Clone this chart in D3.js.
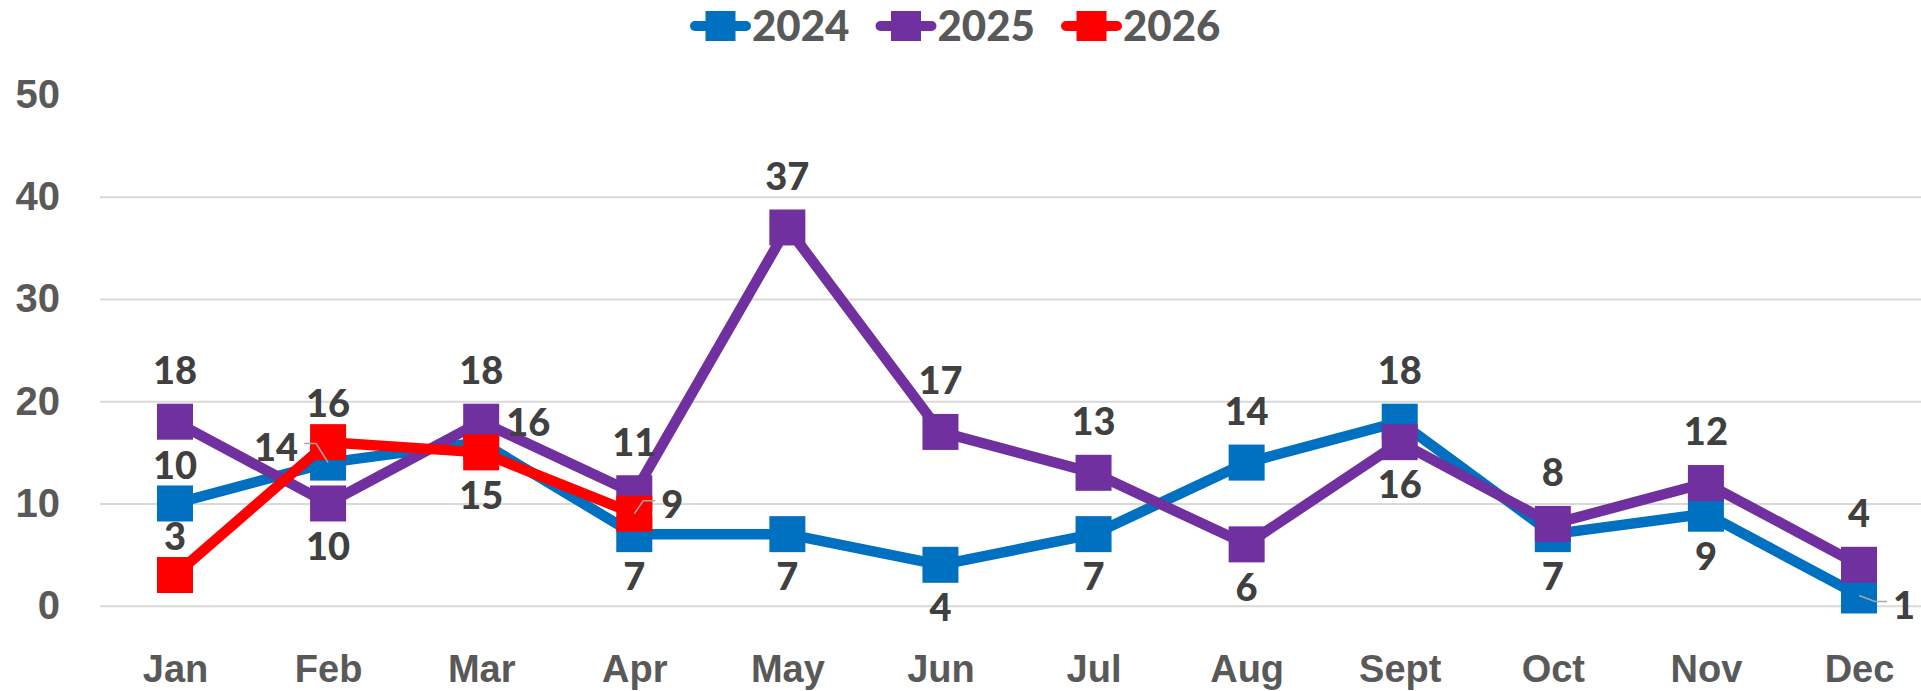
<!DOCTYPE html>
<html>
<head>
<meta charset="utf-8">
<script src="https://cdn.jsdelivr.net/npm/d3@7"></script>
<style>
  html, body { margin: 0; padding: 0; background: #fff; }
  svg { display: block; font-family: Lato, 'Open Sans', sans-serif; font-weight: 900; }
</style>
</head>
<body>
<svg id="chart" width="1921" height="691"></svg>
<script>
const months = ['Jan', 'Feb', 'Mar', 'Apr', 'May', 'Jun', 'Jul', 'Aug', 'Sept', 'Oct', 'Nov', 'Dec']
const yTicks = [0, 10, 20, 30, 40, 50]

const values2024 = [10, 14, 16, 7, 7, 4, 7, 14, 18, 7, 9, 1]
const values2025 = [18, 10, 18, 11, 37, 17, 13, 6, 16, 8, 12, 4]
const values2026 = [3, 16, 15, 9]

// where each data label sits relative to its marker
const labels2024 = ['near', 'left', 'right', 'below', 'below', 'below', 'below', 'above', 'above', 'below', 'below', 'rightLow']
const labels2025 = ['above', 'below', 'above', 'above', 'above', 'above', 'above', 'below', 'below', 'above', 'above', 'above']
const labels2026 = ['near', 'near', 'below', 'rightMid']

const series = [
  { name: '2024', color: '#0070c0', values: values2024, labels: labels2024 },
  { name: '2025', color: '#7030a0', values: values2025, labels: labels2025 },
  { name: '2026', color: '#ff0000', values: values2026, labels: labels2026 }
]

const labelOffsets = {
  above: [0, -51],
  near: [0, -38],
  below: [0, 43],
  left: [-52, -15],
  right: [47, -19],
  rightMid: [38, -9],
  rightLow: [45, 10]
}
const withLeader = { left: -1, rightMid: 1, rightLow: 1 }

window.addEventListener('DOMContentLoaded', init)

function init () {
  const svg = d3.select('#chart')
  const x = d3.scalePoint().domain(months).range([175, 1859])
  const y = d3.scaleLinear().domain([0, 50]).range([605.7, 94.6])

  buildAxes(svg, x, y)
  buildLines(svg, x, y)
  buildLabels(svg, x, y)
  buildLegend(svg)
}

function buildAxes (svg, x, y) {
  const yAxis = svg.append('g')
    .attr('transform', 'translate(100,0)')
    .call(d3.axisLeft(y).tickValues(yTicks).tickSize(-1821).tickPadding(40))
  yAxis.select('.domain').remove()
  yAxis.selectAll('.tick line')
    .attr('stroke', '#d9d9d9')
    .attr('stroke-width', 2)
    .filter(d => d === 50)
    .remove()
  yAxis.selectAll('.tick text')
    .attr('fill', '#595959')
    .style('font-size', '40px')

  const xAxis = svg.append('g')
    .attr('transform', `translate(0,${y(0)})`)
    .call(d3.axisBottom(x).tickSize(0))
  xAxis.select('.domain').remove()
  xAxis.selectAll('.tick text')
    .attr('y', 63)
    .attr('dy', '0.35em')
    .attr('fill', '#595959')
    .style('font-size', '38px')
}

function buildLines (svg, x, y) {
  const line = d3.line()
    .x((d, i) => x(months[i]))
    .y(d => y(d))

  const groups = svg.append('g')
    .selectAll('g')
    .data(series)
    .enter()
    .append('g')

  groups.append('path')
    .attr('d', s => line(s.values))
    .attr('fill', 'none')
    .attr('stroke', s => s.color)
    .attr('stroke-width', 10.5)
    .attr('stroke-linejoin', 'round')

  groups.selectAll('rect')
    .data(s => s.values.map((v, i) => ({ v, i, color: s.color })))
    .enter()
    .append('rect')
    .attr('x', d => x(months[d.i]) - 18)
    .attr('y', d => y(d.v) - 18)
    .attr('width', 36)
    .attr('height', 36)
    .attr('fill', d => d.color)
}

function buildLabels (svg, x, y) {
  const points = series.flatMap(s => s.values.map((v, i) => ({ v, i, kind: s.labels[i] })))
  const g = svg.append('g')

  points.forEach(p => {
    const px = x(months[p.i])
    const py = y(p.v)
    const [dx, dy] = labelOffsets[p.kind]
    const text = g.append('text')
      .attr('x', px + dx)
      .attr('y', py + dy)
      .attr('dy', '0.35em')
      .attr('text-anchor', 'middle')
      .attr('fill', '#404040')
      .style('font-size', '38px')
      .text(p.v)

    const side = withLeader[p.kind]
    if (side) {
      const half = text.node().getComputedTextLength() / 2
      const endX = px + dx - side * (half + 6)
      const endY = py + dy - 4
      g.append('path')
        .attr('d', `M${px},${py}L${endX - side * 12},${endY}L${endX},${endY}`)
        .attr('fill', 'none')
        .attr('stroke', '#a6a6a6')
        .attr('stroke-width', 1.5)
    }
  })
}

function buildLegend (svg) {
  const legend = svg.append('g')
    .attr('transform', 'translate(690,26)')
    .selectAll('g')
    .data(series)
    .enter()
    .append('g')
    .attr('transform', (d, i) => `translate(${i * 185.5},0)`)

  legend.append('line')
    .attr('x1', 5)
    .attr('x2', 56)
    .attr('stroke', d => d.color)
    .attr('stroke-width', 10)
    .attr('stroke-linecap', 'round')

  legend.append('rect')
    .attr('x', 15.5)
    .attr('y', -15)
    .attr('width', 30)
    .attr('height', 30)
    .attr('fill', d => d.color)

  legend.append('text')
    .attr('x', 62)
    .attr('dy', '0.36em')
    .attr('fill', '#595959')
    .style('font-size', '42px')
    .text(d => d.name)
}
</script>
</body>
</html>
